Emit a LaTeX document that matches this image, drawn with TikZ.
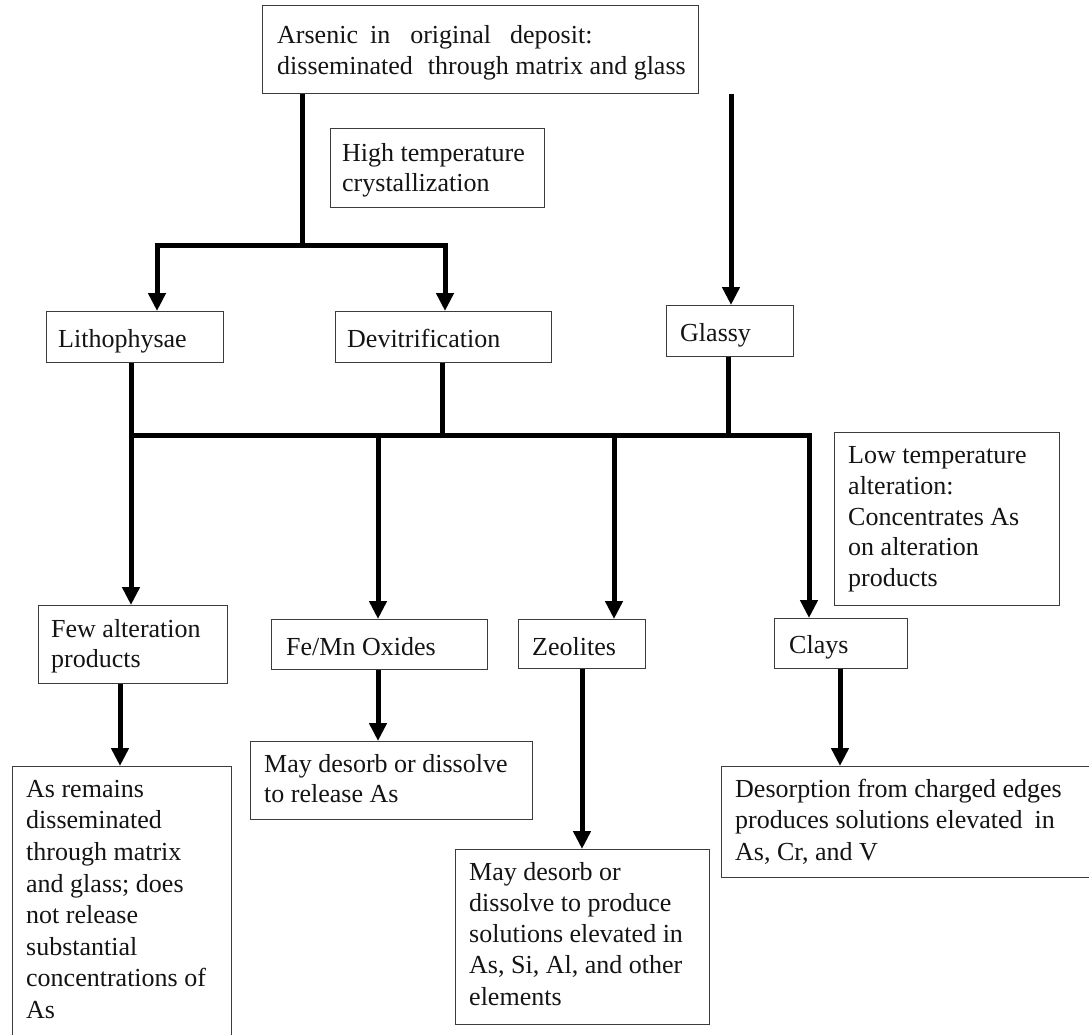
\documentclass[tikz,border=0pt]{standalone}
\usepackage{fontspec}
\setmainfont{Liberation Serif}
\usetikzlibrary{arrows.meta}
\definecolor{edgegray}{HTML}{3C3C3C}
\definecolor{inkblack}{HTML}{141414}
\tikzset{
  bx/.style={draw=edgegray, line width=1.4pt, fill=white, inner sep=0pt, rectangle},
  tx/.style={inner sep=0pt, align=left, text=inkblack},
  conn/.style={line width=5pt, black, line join=miter},
  arr/.style={conn, -{Triangle[width=17pt,length=18pt]}},
}
\newcommand{\mybox}[5]{\node[bx, anchor=north west, minimum width={(#4-#2)*1pt}, minimum height={(#5-#3)*1pt}] (#1) at (#2,#3) {};}
\newcommand{\mytext}[5][31.3]{\node[tx, anchor=north west, font=\fontsize{26}{#1}\selectfont] (#2) at (#3,{#4-21}) {\rule{0pt}{21pt}#5};}
\begin{document}
\begin{tikzpicture}[x=1pt,y=-1pt]
\useasboundingbox (0,0) rectangle (1089,1035);
\clip (0,0) rectangle (1089,1035);
\fill[white] (0,0) rectangle (1089,1035);

% boxes
\mybox{top}{262}{5}{698}{93}
\mybox{high}{330}{128}{544}{207}
\mybox{litho}{46}{311}{223}{362}
\mybox{devit}{335}{311}{551}{362}
\mybox{glassy}{666}{305}{793}{356}
\mybox{low}{834}{432}{1059}{605}
\mybox{few}{38}{605}{227}{683}
\mybox{femn}{271}{619}{487}{669}
\mybox{zeol}{518}{619}{645}{668}
\mybox{clays}{774}{618}{907}{668}
\mybox{asrem}{12}{766}{231}{1045}
\mybox{femnres}{250}{741}{532}{819}
\mybox{zeolres}{455}{849}{709}{1024}
\mybox{desorp}{721}{766}{1095}{877}

% texts
\mytext{ttop}{277}{43}{Arsenic\hspace{12pt}in\hspace{20pt}original\hspace{19pt}deposit:\\disseminated\hspace{15pt}through matrix and glass}
\mytext[30]{thigh}{342}{161}{High temperature\\crystallization}
\mytext{tlitho}{58}{347}{Lithophysae}
\mytext{tdevit}{347}{347}{Devitrification}
\mytext{tglassy}{680}{341}{Glassy}
\mytext[30.9]{tlow}{848}{463}{Low temperature\\alteration:\\Concentrates As\\on alteration\\products}
\mytext[30]{tfew}{51}{637}{Few alteration\\products}
\mytext{tfemn}{286}{655}{Fe/Mn Oxides}
\mytext{tzeol}{532}{655}{Zeolites}
\mytext{tclays}{789}{653}{Clays}
\mytext[31.6]{tasrem}{26}{797}{As remains\\disseminated\\through matrix\\and glass; does\\not release\\substantial\\concentrations of\\As}
\mytext[30]{tfemnres}{264}{772}{May desorb or dissolve\\to release As}
\mytext[31.2]{tzeolres}{469}{880}{May desorb or\\dissolve to produce\\solutions elevated in\\As, Si, Al, and other\\elements}
\mytext[31.6]{tdes}{735}{797}{Desorption from charged edges\\produces solutions elevated\hspace{12pt}in\\As, Cr, and V}

% junction coordinates
\coordinate (t1) at (302,245);
\coordinate (l1) at (157,245);
\coordinate (r1) at (445,245);
\coordinate (g1) at (731,200);
\coordinate (b1) at (131,435);
\coordinate (s2) at (442,435);
\coordinate (s3) at (728,435);
\coordinate (b2) at (378,435);
\coordinate (b3) at (614,435);
\coordinate (b4) at (809,435);
\coordinate (c1) at (120,700);
\coordinate (c2) at (378,700);
\coordinate (c3) at (582,700);
\coordinate (c4) at (840,700);

% connectors
\draw[conn] (top.south -| t1) -- (t1);
\draw[arr] (t1) -- (l1) -- (l1 |- litho.north);
\draw[arr] (t1) -- (r1) -- (r1 |- devit.north);
\draw[arr] (top.south -| g1) -- (g1 |- glassy.north);

\draw[conn] (devit.south -| s2) -- (s2);
\draw[conn] (glassy.south -| s3) -- (s3);
\draw[arr] (litho.south -| b1) -- (b1 |- few.north);
\draw[arr] (b1) -- (b4) -- (b4 |- clays.north);
\draw[arr] (b2) -- (b2 |- femn.north);
\draw[arr] (b3) -- (b3 |- zeol.north);

\draw[arr] (few.south -| c1) -- (c1 |- asrem.north);
\draw[arr] (femn.south -| c2) -- (c2 |- femnres.north);
\draw[arr] (zeol.south -| c3) -- (c3 |- zeolres.north);
\draw[arr] (clays.south -| c4) -- (c4 |- desorp.north);
\end{tikzpicture}
\end{document}
